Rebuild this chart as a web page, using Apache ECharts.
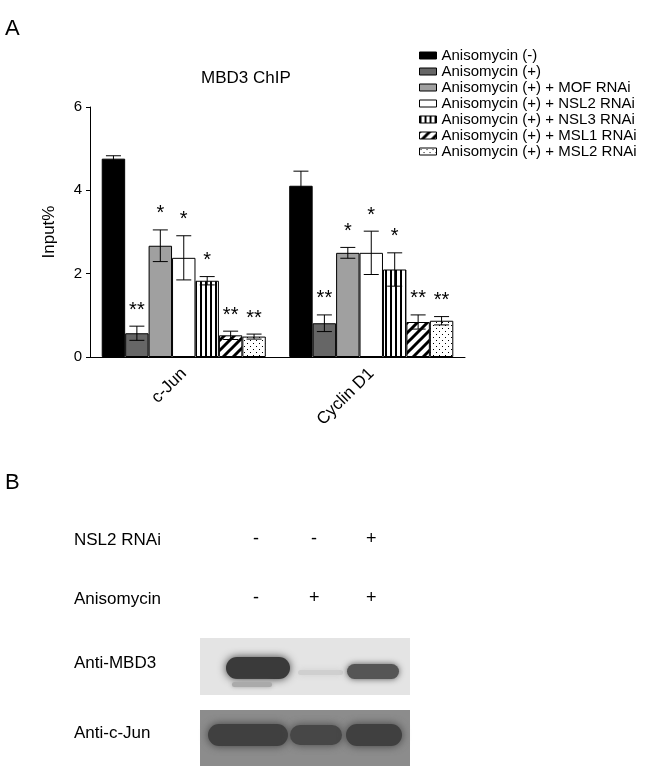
<!DOCTYPE html>
<html><head><meta charset="utf-8">
<script src="https://cdn.jsdelivr.net/npm/echarts@6/dist/echarts.min.js"></script>
<style>html,body{margin:0;background:#fff}#c{width:650px;height:766px}</style>
</head><body><div id="c"></div>
<script>
var categories = ['c-Jun', 'Cyclin D1'];
var seriesNames = ['Anisomycin (-)', 'Anisomycin (+)', 'Anisomycin (+) + MOF RNAi', 'Anisomycin (+) + NSL2 RNAi',
    'Anisomycin (+) + NSL3 RNAi', 'Anisomycin (+) + MSL1 RNAi', 'Anisomycin (+) + MSL2 RNAi'];
var means = [[4.76, 4.11], [0.57, 0.81], [2.67, 2.50], [2.38, 2.50], [1.83, 2.10], [0.52, 0.84], [0.49, 0.87]];
var errors = [[0.07, 0.35], [0.17, 0.20], [0.38, 0.13], [0.53, 0.52], [0.10, 0.40], [0.10, 0.17], [0.06, 0.10]];
var stars = [['', ''], ['**', '**'], ['*', '*'], ['*', '*'], ['*', '*'], ['**', '**'], ['**', '**']];
var yTicks = [0, 2, 4, 6];

function pattern(kind) {
    var c = document.createElement('canvas');
    var ctx = c.getContext('2d');
    if (kind == 'vstripe') {
        c.width = 5; c.height = 5;
        ctx.fillStyle = '#fff'; ctx.fillRect(0, 0, 5, 5);
        ctx.fillStyle = '#000'; ctx.fillRect(0, 0, 2, 5);
    } else if (kind == 'diag') {
        c.width = 10; c.height = 10;
        ctx.fillStyle = '#fff'; ctx.fillRect(0, 0, 10, 10);
        ctx.strokeStyle = '#000'; ctx.lineWidth = 3;
        ctx.beginPath();
        ctx.moveTo(-2, 12); ctx.lineTo(12, -2);
        ctx.moveTo(-7, 7); ctx.lineTo(7, -7);
        ctx.moveTo(3, 17); ctx.lineTo(17, 3);
        ctx.stroke();
    } else {
        c.width = 6; c.height = 6;
        ctx.fillStyle = '#fff'; ctx.fillRect(0, 0, 6, 6);
        ctx.fillStyle = '#000';
        ctx.fillRect(1, 1, 1, 1); ctx.fillRect(4, 4, 1, 1);
    }
    return {image: c, repeat: 'repeat'};
}
var fills = ['#000', '#666', '#a0a0a0', '#fff', pattern('vstripe'), pattern('diag'), pattern('dots')];

var gap = 0.125, n = seriesNames.length;
var series = [];
seriesNames.forEach(function (name, i) {
    series.push({
        name: name, type: 'bar', data: means[i], barGap: 0, barCategoryGap: '12.5%',
        itemStyle: {color: fills[i], borderColor: '#000', borderWidth: 1}
    });
});
seriesNames.forEach(function (name, i) {
    series.push({
        type: 'custom', silent: true, z: 10,
        data: means[i].map(function (m, j) { return [j, m, errors[i][j], stars[i][j]]; }),
        renderItem: function (params, api) {
            var band = api.size([1, 0])[0];
            var bw = band * (1 - gap) / n;
            var x = api.coord([api.value(0), 0])[0] - band * (1 - gap) / 2 + (i + 0.5) * bw;
            var hi = api.coord([0, api.value(1) + api.value(2)])[1];
            var lo = api.coord([0, api.value(1) - api.value(2)])[1];
            var cap = bw * 0.32;
            var st = {stroke: '#000', lineWidth: 1};
            return {type: 'group', children: [
                {type: 'line', shape: {x1: x, y1: hi, x2: x, y2: lo}, style: st},
                {type: 'line', shape: {x1: x - cap, y1: hi, x2: x + cap, y2: hi}, style: st},
                {type: 'line', shape: {x1: x - cap, y1: lo, x2: x + cap, y2: lo}, style: st},
                {type: 'text', x: x, y: hi - 6, style: {text: api.value(3), fill: '#000', font: '20px "Liberation Sans"', align: 'center', verticalAlign: 'bottom'}}
            ]};
        }
    });
});

var font = '"Liberation Sans", Arial, sans-serif';
function band(x, y, w, h, col, blur) {
    return {type: 'rect', shape: {x: x, y: y, width: w, height: h, r: h / 2},
        style: {fill: col, shadowBlur: blur, shadowColor: col}};
}
var graphics = [
    {type: 'text', left: 5, top: 18, style: {text: 'A', font: '22px ' + font, fill: '#000'}},
    {type: 'text', left: 5, top: 472, style: {text: 'B', font: '22px ' + font, fill: '#000'}},
    {type: 'text', left: 74, top: 532, style: {text: 'NSL2 RNAi', font: '17px ' + font, fill: '#000'}},
    {type: 'text', left: 74, top: 591, style: {text: 'Anisomycin', font: '17px ' + font, fill: '#000'}},
    {type: 'text', left: 74, top: 655, style: {text: 'Anti-MBD3', font: '17px ' + font, fill: '#000'}},
    {type: 'text', left: 74, top: 725, style: {text: 'Anti-c-Jun', font: '17px ' + font, fill: '#000'}},
    {type: 'text', left: 253, top: 530, style: {text: '-', font: '18px ' + font, fill: '#000'}},
    {type: 'text', left: 311, top: 530, style: {text: '-', font: '18px ' + font, fill: '#000'}},
    {type: 'text', left: 366, top: 530, style: {text: '+', font: '18px ' + font, fill: '#000'}},
    {type: 'text', left: 253, top: 589, style: {text: '-', font: '18px ' + font, fill: '#000'}},
    {type: 'text', left: 309, top: 589, style: {text: '+', font: '18px ' + font, fill: '#000'}},
    {type: 'text', left: 366, top: 589, style: {text: '+', font: '18px ' + font, fill: '#000'}},
    {type: 'rect', shape: {x: 200, y: 638, width: 210, height: 57}, style: {fill: '#e4e4e4'}},
    band(226, 657, 64, 22, '#3a3a3a', 8),
    band(232, 682, 40, 5, '#aaaaaa', 4),
    band(298, 670, 45, 5, '#cfcfcf', 6),
    band(347, 664, 52, 15, '#555555', 6),
    {type: 'rect', shape: {x: 200, y: 710, width: 210, height: 56}, style: {fill: '#8c8c8c'}},
    band(208, 724, 80, 22, '#404040', 8),
    band(290, 725, 52, 20, '#474747', 8),
    band(346, 724, 56, 22, '#404040', 8)
];

var chart = echarts.init(document.getElementById('c'));
chart.setOption({
    animation: false,
    title: {text: 'MBD3 ChIP', left: 196, top: 65, textStyle: {fontFamily: font, fontWeight: 'normal', fontSize: 17, color: '#000'}},
    legend: {
        data: seriesNames, orient: 'vertical', left: 414, top: 43, itemWidth: 17, itemHeight: 7, itemGap: 1,
        icon: 'rect',
        textStyle: {fontFamily: font, fontSize: 15, color: '#000'},
        itemStyle: {borderColor: '#000', borderWidth: 1}
    },
    grid: {left: 90, right: 185, top: 107, bottom: 409},
    xAxis: {
        type: 'category', data: categories,
        axisLine: {lineStyle: {color: '#000'}}, axisTick: {show: false},
        axisLabel: {rotate: 45, color: '#000', fontFamily: font, fontSize: 17, margin: 14}
    },
    yAxis: {
        type: 'value', min: yTicks[0], max: yTicks[yTicks.length - 1], interval: 2,
        name: 'Input%', nameLocation: 'middle', nameGap: 32,
        nameTextStyle: {fontFamily: font, fontSize: 17, color: '#000'},
        axisLine: {show: true, lineStyle: {color: '#000'}}, axisTick: {show: true, length: 4},
        splitLine: {show: false},
        axisLabel: {color: '#000', fontFamily: font, fontSize: 15}
    },
    series: series,
    graphic: graphics
});
</script></body></html>
